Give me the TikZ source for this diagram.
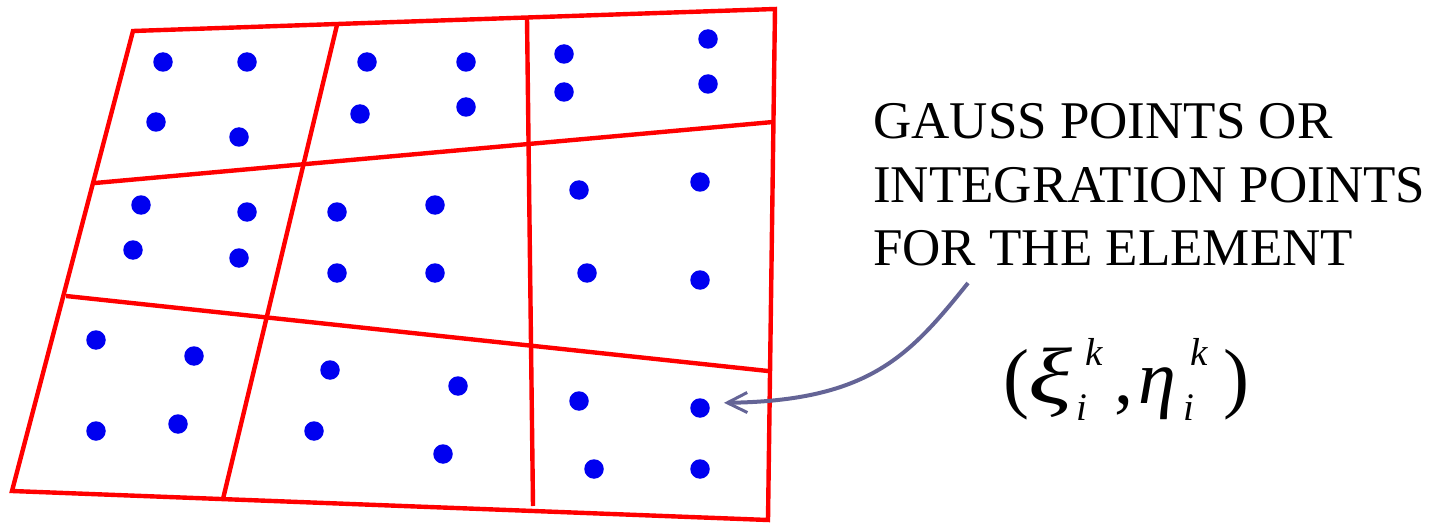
\documentclass[tikz,border=0pt]{standalone}
\usepackage{fontspec}
\setmainfont{Liberation Serif}
\usetikzlibrary{arrows.meta}
\definecolor{gridred}{RGB}{255,0,0}
\definecolor{gpblue}{RGB}{0,0,240}
\definecolor{arrowslate}{RGB}{100,100,150}
\newcommand{\putat}[3]{\rlap{\hspace*{#1}\raisebox{#2}{#3}}}
\newcommand{\mainsz}{\fontsize{76}{76}\selectfont}
\newcommand{\scrsz}{\fontsize{39}{39}\selectfont}
\tikzset{
  gridline/.style={draw=gridred,line width=4.4pt},
  gp/.style={circle,fill=gpblue,inner sep=0pt,minimum size=19.5pt},
  label/.style={anchor=base west,inner sep=0pt,font=\fontsize{53}{63}\selectfont},
  pointer/.style={draw=arrowslate,line width=4pt,-{Straight Barb[length=20pt,width=20pt,line width=3pt]}}
}
\begin{document}
\begin{tikzpicture}[x=1pt,y=-1pt]
\useasboundingbox (0,0) rectangle (1441,524);
% grid coordinates
\coordinate (T0) at (133,31);
\coordinate (T1) at (337,25);
\coordinate (T2) at (527,18);
\coordinate (T3) at (775,9);
\coordinate (A0) at (95,183);
\coordinate (A3) at (773,122);
\coordinate (B0) at (66,296);
\coordinate (B3) at (768,371);
\coordinate (C0) at (12,491);
\coordinate (C1) at (223,499);
\coordinate (C2) at (533,506);
\coordinate (C3) at (768,520);
% mesh
\draw[gridline] (T0) -- (T3) -- (C3) -- (C0) -- cycle;
\draw[gridline] (A0) -- (A3);
\draw[gridline] (B0) -- (B3);
\draw[gridline] (T1) -- (C1);
\draw[gridline] (T2) -- (C2);
% Gauss points
\node[gp] (p11a) at (163,62) {};
\node[gp] (p11b) at (247,62) {};
\node[gp] (p11c) at (156,122) {};
\node[gp] (p11d) at (239,137) {};
\node[gp] (p12a) at (367,62) {};
\node[gp] (p12b) at (466,62) {};
\node[gp] (p12c) at (360,114) {};
\node[gp] (p12d) at (466,107) {};
\node[gp] (p13a) at (564,54) {};
\node[gp] (p13b) at (708,39) {};
\node[gp] (p13c) at (564,92) {};
\node[gp] (p13d) at (708,84) {};
\node[gp] (p21a) at (141,205) {};
\node[gp] (p21b) at (247,212) {};
\node[gp] (p21c) at (133,250) {};
\node[gp] (p21d) at (239,258) {};
\node[gp] (p22a) at (337,212) {};
\node[gp] (p22b) at (435,205) {};
\node[gp] (p22c) at (337,273) {};
\node[gp] (p22d) at (435,273) {};
\node[gp] (p23a) at (579,190) {};
\node[gp] (p23b) at (700,182) {};
\node[gp] (p23c) at (587,273) {};
\node[gp] (p23d) at (700,280) {};
\node[gp] (p31a) at (96,340) {};
\node[gp] (p31b) at (194,356) {};
\node[gp] (p31c) at (96,431) {};
\node[gp] (p31d) at (178,424) {};
\node[gp] (p32a) at (330,370) {};
\node[gp] (p32b) at (458,386) {};
\node[gp] (p32c) at (314,431) {};
\node[gp] (p32d) at (443,454) {};
\node[gp] (p33a) at (579,401) {};
\node[gp] (p33b) at (700,408) {};
\node[gp] (p33c) at (594,469) {};
\node[gp] (p33d) at (700,469) {};
% labels
\node[label] (l1) at (873,139) {GAUSS POINTS OR};
\node[label] (l2) at (873,202) {INTEGRATION POINTS};
\node[label] (l3) at (873,265) {FOR THE ELEMENT};
\node[anchor=base west,inner sep=0pt] (coord) at (1003,403)
  {\mainsz
   \putat{0pt}{0pt}{\fontsize{78}{78}\selectfont (}%
   \putat{25pt}{0pt}{\scalebox{1.35}[1.05]{\itshape ξ}}%
   \putat{82pt}{38pt}{\scrsz\itshape k}%
   \putat{73pt}{-17pt}{\scrsz\itshape i}%
   \putat{111pt}{0pt}{,}%
   \putat{135pt}{0pt}{\itshape η}%
   \putat{187pt}{38pt}{\scrsz\itshape k}%
   \putat{180pt}{-17pt}{\scrsz\itshape i}%
   \putat{220pt}{0pt}{\fontsize{78}{78}\selectfont )}%
   \hspace*{246pt}};
% pointer
\coordinate (ps) at (968,283);
\draw[pointer,shorten >=14pt] (ps) .. controls (910,355) and (870,401) .. ([yshift=5pt]p33b.east);
\end{tikzpicture}
\end{document}
